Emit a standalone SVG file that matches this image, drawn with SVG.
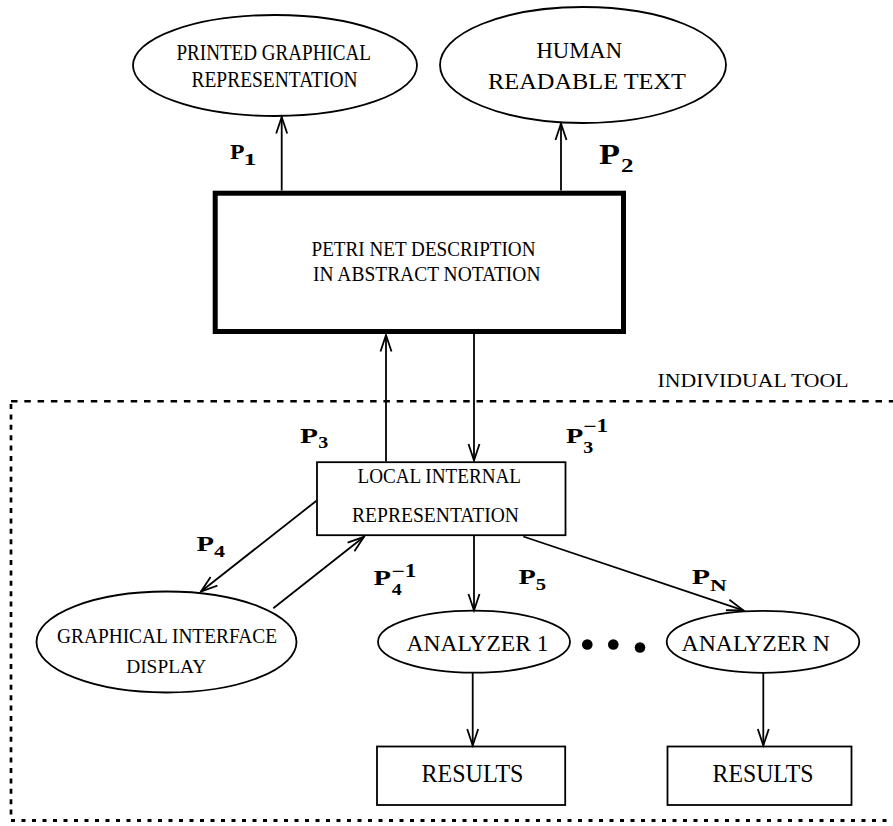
<svg xmlns="http://www.w3.org/2000/svg" width="893" height="826" viewBox="0 0 893 826">
  <style>
    .node { fill: #fff; stroke: #000; stroke-width: 1.8; }
    .thick { fill: #fff; stroke: #000; stroke-width: 5; }
    .lbl { font-family: "Liberation Serif", "Times New Roman", serif; fill: #000; }
    .p { font-family: "Liberation Serif", "Times New Roman", serif; font-weight: bold; fill: #000; }
    .edge { stroke: #000; stroke-width: 1.8; fill: none; marker-end: url(#ah); }
    .frame { stroke: #000; fill: none; }
  </style>
  <defs>
    <marker id="ah" markerUnits="userSpaceOnUse" markerWidth="22" markerHeight="16" refX="17" refY="6" orient="auto" overflow="visible">
      <path d="M0.5,0.5 L17,6 L0.5,11.5" fill="none" stroke="#000" stroke-width="1.8"/>
    </marker>
  </defs>
  <rect width="893" height="826" fill="#fff"/>

  <!-- tool boundary -->
  <g id="individual-tool">
    <path class="frame" d="M11,401.3 H893" stroke-width="2.6" stroke-dasharray="6.5 6.8"/>
    <path class="frame" d="M11,404 V820" stroke-width="2.7" stroke-dasharray="5 5.4"/>
    <path class="frame" d="M11,820.5 H893" stroke-width="3.2" stroke-dasharray="4 6.5"/>
    <text class="lbl" x="657.5" y="386.7" font-size="18.5" textLength="191" lengthAdjust="spacingAndGlyphs">INDIVIDUAL TOOL</text>
  </g>

  <g id="printed">
    <ellipse class="node" cx="275" cy="65.5" rx="142" ry="50.5"/>
    <text class="lbl" x="176.5" y="60" font-size="23" textLength="194.5" lengthAdjust="spacingAndGlyphs">PRINTED GRAPHICAL</text>
    <text class="lbl" x="191.5" y="87.3" font-size="23" textLength="166" lengthAdjust="spacingAndGlyphs">REPRESENTATION</text>
  </g>

  <g id="human">
    <ellipse class="node" cx="583" cy="65" rx="143" ry="58"/>
    <text class="lbl" x="536.5" y="58.3" font-size="23" textLength="85.5" lengthAdjust="spacingAndGlyphs">HUMAN</text>
    <text class="lbl" x="488" y="89.3" font-size="23" textLength="198" lengthAdjust="spacingAndGlyphs">READABLE TEXT</text>
  </g>

  <g id="petri-net">
    <rect class="thick" x="215.2" y="193.2" width="408.3" height="138.3"/>
    <text class="lbl" x="311.5" y="256" font-size="20.3" textLength="224" lengthAdjust="spacingAndGlyphs">PETRI NET DESCRIPTION</text>
    <text class="lbl" x="313" y="280.7" font-size="20.3" textLength="227.5" lengthAdjust="spacingAndGlyphs">IN ABSTRACT NOTATION</text>
  </g>

  <g id="local">
    <rect class="node" x="317" y="462.2" width="248.5" height="73" stroke-width="2"/>
    <text class="lbl" x="357.5" y="483.3" font-size="20.3" textLength="163.5" lengthAdjust="spacingAndGlyphs">LOCAL INTERNAL</text>
    <text class="lbl" x="352" y="522.3" font-size="20.3" textLength="167" lengthAdjust="spacingAndGlyphs">REPRESENTATION</text>
  </g>

  <g id="graphical">
    <ellipse class="node" cx="166.5" cy="642" rx="130" ry="50.5"/>
    <text class="lbl" x="57" y="642.7" font-size="22" textLength="220" lengthAdjust="spacingAndGlyphs">GRAPHICAL INTERFACE</text>
    <text class="lbl" x="126.2" y="673.3" font-size="19.3" textLength="80" lengthAdjust="spacingAndGlyphs">DISPLAY</text>
  </g>

  <g id="analyzer-1">
    <ellipse class="node" cx="474" cy="641.7" rx="96" ry="31"/>
    <text class="lbl" x="406.5" y="650.7" font-size="24" textLength="142" lengthAdjust="spacingAndGlyphs">ANALYZER 1</text>
  </g>

  <g id="analyzer-n">
    <ellipse class="node" cx="763" cy="641.8" rx="96.3" ry="31"/>
    <text class="lbl" x="681.5" y="650.7" font-size="24" textLength="148.5" lengthAdjust="spacingAndGlyphs">ANALYZER N</text>
  </g>

  <g id="ellipsis">
    <circle cx="587.3" cy="644.5" r="5.3"/>
    <circle cx="613.3" cy="644.5" r="5.3"/>
    <circle cx="640" cy="647.5" r="5.3"/>
  </g>

  <g id="results-1">
    <rect class="node" x="377" y="746.5" width="188.2" height="58.5"/>
    <text class="lbl" x="421.5" y="781.7" font-size="24.3" textLength="102" lengthAdjust="spacingAndGlyphs">RESULTS</text>
  </g>

  <g id="results-n">
    <rect class="node" x="667.5" y="746.5" width="184" height="58.5"/>
    <text class="lbl" x="712.5" y="781.7" font-size="24.3" textLength="101" lengthAdjust="spacingAndGlyphs">RESULTS</text>
  </g>

  <!-- connectors and their mapping labels -->
  <g id="connectors">
    <path class="edge" d="M281.7,190.5 L281.7,117"/>
    <path class="edge" d="M561,190.5 L561,123.5"/>
    <path class="edge" d="M386,461.5 L386,335"/>
    <path class="edge" d="M474,334 L474,460.5"/>
    <path class="edge" d="M316.5,500.7 L201,591.5"/>
    <path class="edge" d="M273.3,608.3 L364,536.8"/>
    <path class="edge" d="M474,536 L474,610.5"/>
    <path class="edge" d="M523.3,536.5 L743.3,610.3"/>
    <path class="edge" d="M472.7,672.7 L472.7,745.5"/>
    <path class="edge" d="M763.3,672.7 L763.3,745.5"/>

    <text class="p" font-size="22"><tspan x="230" y="159.3" textLength="14.5" lengthAdjust="spacingAndGlyphs">P</tspan><tspan x="243.5" y="165" font-size="17.5" textLength="13" lengthAdjust="spacingAndGlyphs">1</tspan></text>
    <text class="p" font-size="29"><tspan x="599" y="164" textLength="21" lengthAdjust="spacingAndGlyphs">P</tspan><tspan x="621" y="171.7" font-size="19.5" textLength="12.5" lengthAdjust="spacingAndGlyphs">2</tspan></text>
    <text class="p" font-size="22"><tspan x="300" y="442.5" textLength="18" lengthAdjust="spacingAndGlyphs">P</tspan><tspan x="318.3" y="448.3" font-size="17" textLength="10" lengthAdjust="spacingAndGlyphs">3</tspan></text>
    <text class="p" font-size="22"><tspan x="566" y="442.7" textLength="17.3" lengthAdjust="spacingAndGlyphs">P</tspan><tspan x="583.3" y="431.7" font-size="18" textLength="25" lengthAdjust="spacingAndGlyphs">−1</tspan><tspan x="583.3" y="452.7" font-size="17" textLength="10" lengthAdjust="spacingAndGlyphs">3</tspan></text>
    <text class="p" font-size="22"><tspan x="196.5" y="550.5" textLength="17.5" lengthAdjust="spacingAndGlyphs">P</tspan><tspan x="214" y="556.7" font-size="17" textLength="11" lengthAdjust="spacingAndGlyphs">4</tspan></text>
    <text class="p" font-size="22"><tspan x="373.5" y="585" textLength="17.5" lengthAdjust="spacingAndGlyphs">P</tspan><tspan x="391.5" y="577" font-size="18" textLength="25" lengthAdjust="spacingAndGlyphs">−1</tspan><tspan x="391.7" y="595" font-size="17" textLength="10" lengthAdjust="spacingAndGlyphs">4</tspan></text>
    <text class="p" font-size="22"><tspan x="518.5" y="584" textLength="17.3" lengthAdjust="spacingAndGlyphs">P</tspan><tspan x="535.7" y="590" font-size="17" textLength="10.3" lengthAdjust="spacingAndGlyphs">5</tspan></text>
    <text class="p" font-size="22"><tspan x="691.7" y="584" textLength="18.3" lengthAdjust="spacingAndGlyphs">P</tspan><tspan x="710" y="591" font-size="17" textLength="16.7" lengthAdjust="spacingAndGlyphs">N</tspan></text>
  </g>
</svg>
